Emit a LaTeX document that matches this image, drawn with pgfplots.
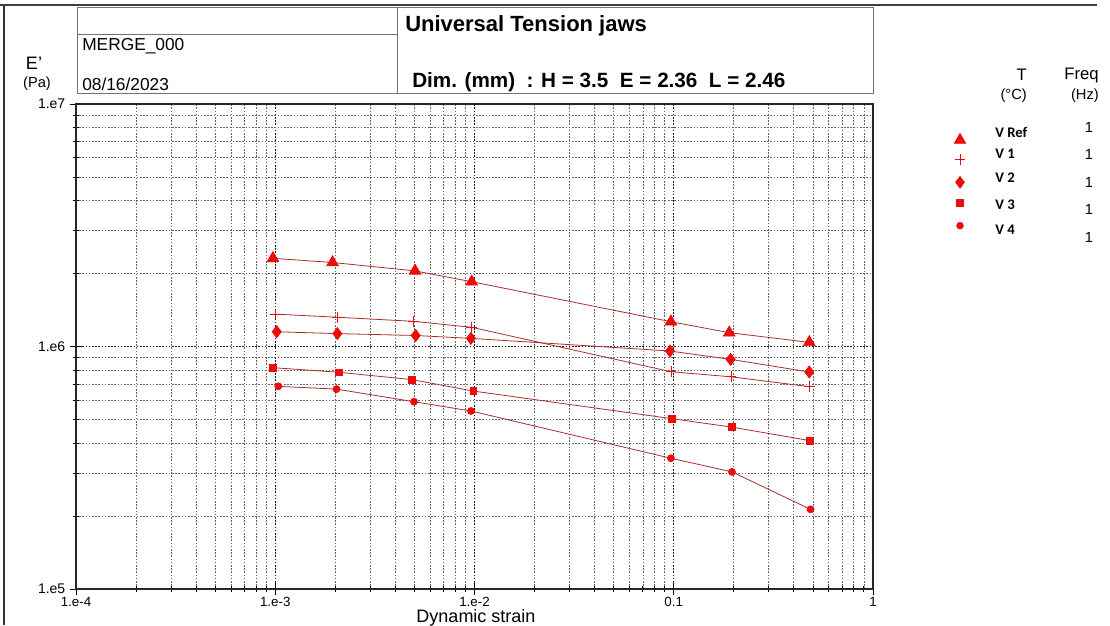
\documentclass[border=0pt]{standalone}
\usepackage{fontspec}
\setmainfont{Liberation Sans}
\newfontfamily\carlito{Carlito}
\usepackage{pgfplots}
\pgfplotsset{compat=1.18}
\definecolor{mred}{RGB}{235,12,12}
\definecolor{lred}{RGB}{170,45,45}
\begin{document}
\begin{tikzpicture}
\useasboundingbox (0,0) rectangle (832.5pt,468.75pt);
\begin{axis}[
  at={(57pt,27pt)}, anchor=south west,
  scale only axis, width=597.75pt, height=363.75pt,
  xmode=log, ymode=log,
  xmin=1e-4, xmax=1, ymin=1e5, ymax=1e7,
  xtick={1e-4,1e-3,1e-2,1e-1,1}, xticklabels={1.e-4,1.e-3,1.e-2,0.1,1},
  ytick={1e5,1e6,1e7}, yticklabels={1.e5,1.e6,1.e7},
  minor xtick={2e-4,3e-4,4e-4,5e-4,6e-4,7e-4,8e-4,9e-4,2e-3,3e-3,4e-3,5e-3,6e-3,7e-3,8e-3,9e-3,0.02,0.03,0.04,0.05,0.06,0.07,0.08,0.09,0.2,0.3,0.4,0.5,0.6,0.7,0.8,0.9},
  minor ytick={2e5,3e5,4e5,5e5,6e5,7e5,8e5,9e5,2e6,3e6,4e6,5e6,6e6,7e6,8e6,9e6},
  grid=both,
  major grid style={black!90, dash pattern=on 1.2pt off 1.2pt, line width=0.55pt},
  minor grid style={black!60, dash pattern=on 1.2pt off 1.2pt, line width=0.5pt},
  tick pos=left, tick align=center,
  major tick length=9pt, minor tick length=4.5pt,
  tick style={black, line width=0.6pt},
  axis line style={black!85, line width=1pt},
  /pgf/number format/assume math mode=true,
  xticklabel style={font=\fontsize{10}{12}\selectfont, yshift=2pt},
  yticklabel style={font=\fontsize{10.5}{12}\selectfont},
]
\addplot[lred, line width=0.6pt, mark=triangle*, mark size=5pt, mark options={solid, fill=mred, draw=mred}] coordinates {
(9.74e-4,2.31e6) (1.94e-3,2.22e6) (5.03e-3,2.05e6) (9.68e-3,1.85e6) (9.68e-2,1.265e6) (0.190,1.14e6) (0.479,1.04e6)};
\addplot[lred, line width=0.6pt, mark=+, mark size=4pt, mark options={solid, draw=mred, line width=0.5pt}] coordinates {
(9.97e-4,1.36e6) (2.05e-3,1.32e6) (4.93e-3,1.27e6) (9.68e-3,1.20e6) (9.68e-2,7.87e5) (0.194,7.50e5) (0.479,6.83e5)};
\addplot[lred, line width=0.6pt, mark=diamond*, mark size=4.5pt, mark options={solid, fill=mred, draw=mred}] coordinates {
(1.017e-3,1.15e6) (2.05e-3,1.13e6) (5.07e-3,1.11e6) (9.60e-3,1.08e6) (9.57e-2,9.58e5) (0.193,8.85e5) (0.479,7.85e5)};
\addplot[lred, line width=0.6pt, mark=square*, mark size=2.5pt, mark options={solid, fill=mred, draw=mred}] coordinates {
(9.71e-4,8.18e5) (2.08e-3,7.83e5) (4.87e-3,7.30e5) (9.86e-3,6.55e5) (9.77e-2,5.04e5) (0.196,4.65e5) (0.483,4.09e5)};
\addplot[lred, line width=0.6pt, mark=*, mark size=2.6pt, mark options={solid, fill=mred, draw=mred}] coordinates {
(1.036e-3,6.85e5) (2.03e-3,6.67e5) (4.97e-3,5.92e5) (9.60e-3,5.42e5) (9.68e-2,3.46e5) (0.196,3.04e5) (0.486,2.13e5)};
\end{axis}
\begin{axis}[
  at={(0pt,0pt)}, anchor=south west,
  scale only axis, width=832.5pt, height=468.75pt,
  xmin=0, xmax=1110, ymin=0, ymax=625, y dir=reverse,
  hide axis, clip=false,
]
\draw[black!75, line width=1.5pt] (axis cs:0,5) -- (axis cs:1097,5);
\draw[black!80, line width=0.8pt] (axis cs:4,5) -- (axis cs:4,625);
\draw[black!55, line width=0.75pt] (axis cs:77,7) rectangle (axis cs:397,93);
\draw[black!55, line width=0.75pt] (axis cs:77,34) -- (axis cs:397,34);
\draw[black!55, line width=0.75pt] (axis cs:397,7) rectangle (axis cs:873,93);
\node[anchor=west, inner sep=0pt, font=\fontsize{13}{15}\selectfont] at (axis cs:82,46) {MERGE\_000};
\node[anchor=west, inner sep=0pt, font=\fontsize{13}{15}\selectfont] at (axis cs:82,84) {08/16/2023};
\node[anchor=west, inner sep=0pt, font=\fontsize{16.5}{18}\selectfont\bfseries] at (axis cs:405,26) {Universal Tension jaws};
\node[anchor=west, inner sep=0pt, font=\fontsize{15.5}{18}\selectfont\bfseries] at (axis cs:412,82) {Dim. (mm)\ \ : H = 3.5\ \ E = 2.36\ \ L = 2.46};
\node[inner sep=0pt, font=\fontsize{13.5}{15}\selectfont] at (axis cs:34,63) {E'};
\node[inner sep=0pt, font=\fontsize{11}{13}\selectfont] at (axis cs:37,84) {(Pa)};
\node[inner sep=0pt, font=\fontsize{13.5}{15}\selectfont] at (axis cs:476,618) {Dynamic strain};
\node[anchor=east, inner sep=0pt, font=\fontsize{12.5}{14}\selectfont] at (axis cs:1027,75) {T};
\node[anchor=east, inner sep=0pt, font=\fontsize{11}{13}\selectfont] at (axis cs:1027,96) {(°C)};
\node[anchor=east, inner sep=0pt, font=\fontsize{12.5}{14}\selectfont] at (axis cs:1099,75) {Freq};
\node[anchor=east, inner sep=0pt, font=\fontsize{11}{13}\selectfont] at (axis cs:1099,96) {(Hz)};
\node[anchor=west, inner sep=0pt, font=\fontsize{11}{13}\selectfont\carlito\bfseries] at (axis cs:995,132.7) {V Ref};
\node[anchor=west, inner sep=0pt, font=\fontsize{11}{13}\selectfont\carlito\bfseries] at (axis cs:995,154) {V 1};
\node[anchor=west, inner sep=0pt, font=\fontsize{11}{13}\selectfont\carlito\bfseries] at (axis cs:995,177.7) {V 2};
\node[anchor=west, inner sep=0pt, font=\fontsize{11}{13}\selectfont\carlito\bfseries] at (axis cs:995,205) {V 3};
\node[anchor=west, inner sep=0pt, font=\fontsize{11}{13}\selectfont\carlito\bfseries] at (axis cs:995,230) {V 4};
\node[inner sep=0pt, font=\fontsize{11}{13}\selectfont] at (axis cs:1089,127) {1};
\node[inner sep=0pt, font=\fontsize{11}{13}\selectfont] at (axis cs:1089,154) {1};
\node[inner sep=0pt, font=\fontsize{11}{13}\selectfont] at (axis cs:1089,182) {1};
\node[inner sep=0pt, font=\fontsize{11}{13}\selectfont] at (axis cs:1089,209) {1};
\node[inner sep=0pt, font=\fontsize{11}{13}\selectfont] at (axis cs:1089,237) {1};
\addplot[only marks, mark=triangle*, mark size=5pt, mark options={fill=mred, draw=mred}] coordinates {(960,140)};
\addplot[only marks, mark=+, mark size=4pt, mark options={draw=mred, line width=0.5pt}] coordinates {(960,159.3)};
\addplot[only marks, mark=diamond*, mark size=4.5pt, mark options={fill=mred, draw=mred}] coordinates {(960,182.3)};
\addplot[only marks, mark=square*, mark size=2.5pt, mark options={fill=mred, draw=mred}] coordinates {(960,202.7)};
\addplot[only marks, mark=*, mark size=2.6pt, mark options={fill=mred, draw=mred}] coordinates {(960,225.7)};
\end{axis}
\end{tikzpicture}
\end{document}
